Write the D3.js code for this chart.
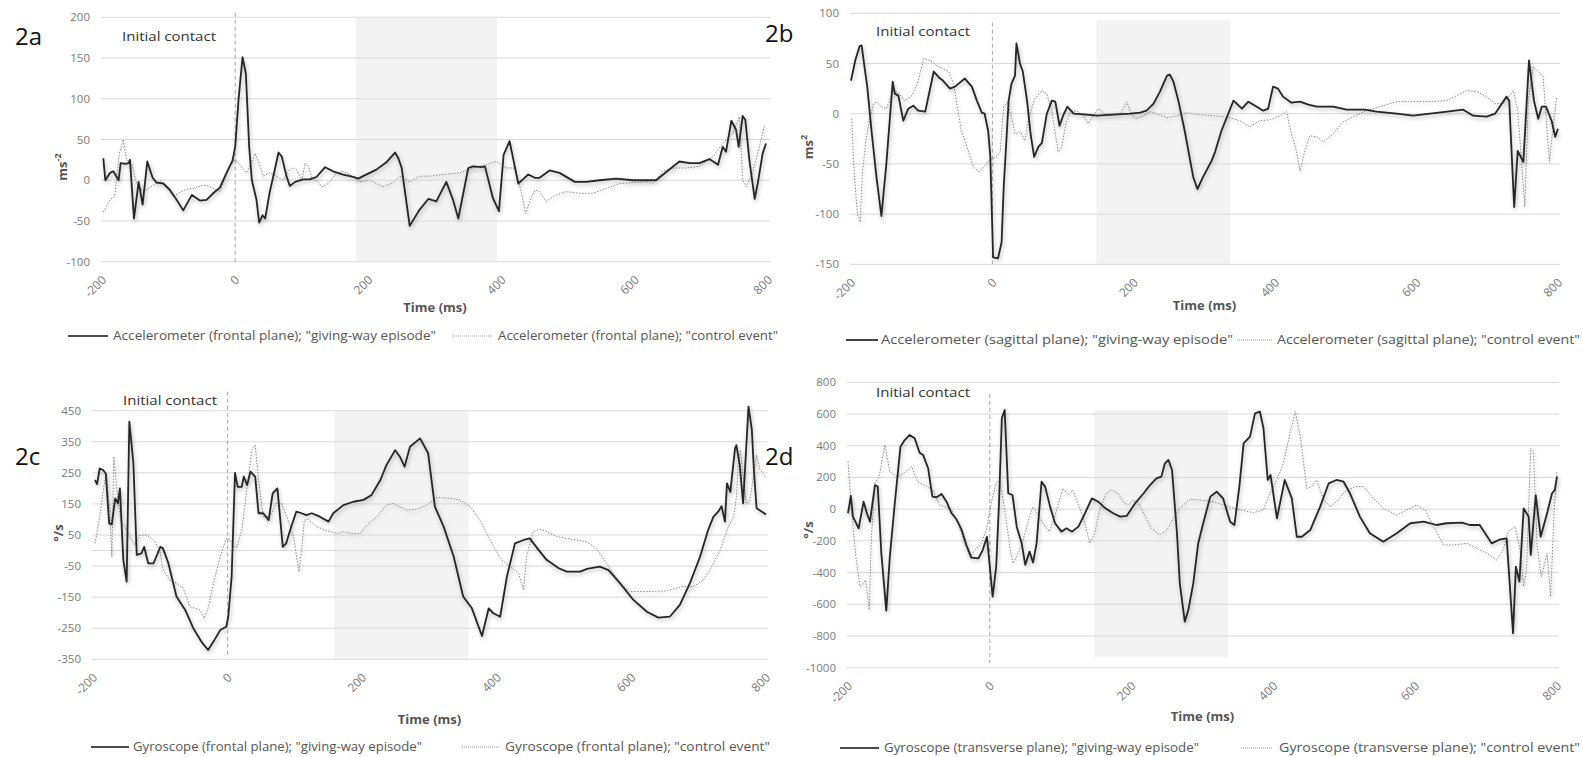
<!DOCTYPE html>
<html>
<head>
<meta charset="utf-8">
<script src="https://cdn.jsdelivr.net/npm/d3@7"></script>
<style>
  body { margin: 0; background: #fff; }
  svg text { font-family: "Open Sans", "DejaVu Sans", sans-serif; }
</style>
</head>
<body>
<svg id="fig" width="1582" height="757"></svg>
<script>
// ---- values: [time ms, value] ----
const xTicks = [-200, 0, 200, 400, 600, 800];
const yTicksA = [200, 150, 100, 50, 0, -50, -100];
const yTicksB = [100, 50, 0, -50, -100, -150];
const yTicksC = [450, 350, 250, 150, 50, -50, -150, -250, -350];
const yTicksD = [800, 600, 400, 200, 0, -200, -400, -600, -800, -1000];

// shaded window: [t start, t end, value bottom, value top]
const shadeA = [181, 393, -100, 199];
const shadeB = [147, 336, -150, 93];
const shadeC = [158, 358, -350, 450];
const shadeD = [147, 336, -935, 625];

const legendA = ['Accelerometer (frontal plane); "giving-way episode"', 'Accelerometer (frontal plane); "control event"'];
const legendB = ['Accelerometer (sagittal plane); "giving-way episode"', 'Accelerometer (sagittal plane); "control event"'];
const legendC = ['Gyroscope (frontal plane); "giving-way episode"', 'Gyroscope (frontal plane); "control event"'];
const legendD = ['Gyroscope (transverse plane); "giving-way episode"', 'Gyroscope (transverse plane); "control event"'];

const accFrontalGiving = [[-198,27],[-195,0],[-188,9],[-183,11],[-175,0],[-172,21],[-165,20],[-160,21],[-158,25],[-152,-47],[-145,-2],[-139,-30],[-132,23],[-124,3],[-118,-3],[-108,-4],[-98,-12],[-88,-24],[-78,-37],[-65,-18],[-53,-25],[-43,-24],[-33,-16],[-23,-9],[-13,9],[-4,24],[0,41],[5,99],[11,151],[16,131],[21,41],[25,0],[32,-24],[36,-52],[41,-43],[45,-47],[52,-14],[60,15],[65,34],[70,29],[77,5],[82,-7],[90,-2],[102,1],[112,1],[122,4],[135,16],[147,11],[162,7],[177,4],[185,2],[192,5],[212,13],[227,22],[240,34],[245,27],[250,15],[262,-56],[277,-36],[290,-23],[302,-26],[317,-2],[327,-24],[335,-47],[350,15],[357,17],[370,16],[375,17],[387,-22],[396,-38],[403,31],[412,48],[425,-4],[432,1],[440,7],[450,3],[457,3],[472,12],[487,9],[510,-2],[527,-2],[547,0],[572,2],[597,0],[632,0],[650,12],[667,23],[682,21],[697,21],[712,26],[725,19],[732,41],[737,35],[745,73],[752,62],[756,41],[762,79],[766,74],[772,25],[780,-23],[785,-2],[792,33],[797,45]];
const accFrontalControl = [[-198,-39],[-188,-24],[-181,-20],[-174,33],[-168,50],[-163,25],[-156,21],[-148,-4],[-138,-14],[-126,-8],[-113,0],[-103,-8],[-93,-20],[-83,-15],[-73,-11],[-61,-10],[-48,-6],[-41,-7],[-33,-10],[-23,-14],[-8,17],[0,26],[7,19],[17,9],[25,23],[30,33],[35,23],[42,5],[52,9],[62,5],[72,0],[80,12],[87,15],[92,13],[100,0],[105,21],[110,17],[115,3],[125,-2],[130,-8],[140,-4],[152,9],[162,11],[172,7],[187,-2],[202,0],[222,-8],[237,-3],[247,5],[262,-2],[277,5],[292,5],[312,7],[337,9],[357,15],[377,19],[392,23],[397,21],[407,15],[420,15],[430,-16],[436,-41],[445,-20],[451,-12],[457,-14],[467,-26],[482,-18],[497,-14],[517,-16],[537,-16],[557,-10],[577,-4],[597,-3],[620,-2],[627,-4],[642,11],[657,15],[677,15],[697,17],[717,29],[732,45],[747,58],[757,78],[762,0],[767,-8],[777,9],[787,41],[795,68]];

const accSagittalGiving = [[-200,33],[-194,53],[-188,67],[-185,68],[-179,37],[-177,27],[-171,-17],[-164,-63],[-157,-102],[-150,-50],[-141,32],[-138,20],[-133,18],[-126,-7],[-119,5],[-112,8],[-105,3],[-95,2],[-83,42],[-74,35],[-70,33],[-60,25],[-53,27],[-39,35],[-29,27],[-22,13],[-15,1],[-11,0],[-6,-17],[-3,-42],[1,-143],[8,-144],[13,-128],[16,-73],[23,13],[27,30],[32,38],[34,70],[39,50],[43,42],[49,13],[54,-20],[59,-43],[65,-33],[70,-29],[77,0],[84,13],[89,12],[95,-12],[100,-2],[106,7],[115,0],[133,-1],[148,-2],[171,-1],[195,0],[209,1],[218,3],[228,10],[237,22],[247,38],[251,39],[256,32],[263,13],[272,-17],[284,-63],[290,-75],[298,-63],[310,-47],[315,-38],[324,-17],[341,13],[353,5],[362,12],[374,7],[383,3],[390,5],[397,27],[404,25],[411,17],[423,11],[435,12],[447,9],[459,7],[482,7],[501,4],[527,4],[543,2],[572,0],[595,-2],[619,0],[643,2],[666,4],[680,-2],[699,-3],[711,0],[727,17],[731,13],[738,-93],[743,-37],[751,-48],[759,53],[766,13],[772,-5],[777,7],[783,7],[791,-7],[796,-23],[800,-15]];
const accSagittalControl = [[-199,-5],[-196,-53],[-191,-100],[-187,-108],[-184,-60],[-179,-27],[-174,-7],[-168,10],[-164,12],[-157,7],[-150,5],[-140,23],[-133,21],[-124,13],[-114,18],[-106,30],[-97,55],[-88,53],[-79,48],[-70,45],[-62,42],[-55,30],[-44,-17],[-36,-33],[-27,-53],[-19,-58],[-11,-52],[-4,-46],[6,-43],[11,-38],[16,7],[21,12],[27,-3],[32,-20],[40,-18],[46,-27],[51,-5],[60,15],[70,23],[77,20],[84,3],[89,-20],[93,-38],[98,-33],[104,-10],[111,2],[119,3],[129,-2],[136,-10],[142,-2],[150,5],[159,0],[171,0],[181,0],[190,12],[195,2],[202,-5],[214,-2],[223,2],[232,0],[247,-4],[261,-2],[275,1],[293,-1],[312,-2],[331,-3],[350,-7],[364,-13],[378,-7],[393,-6],[407,-2],[416,2],[423,-20],[430,-37],[435,-57],[442,-37],[449,-22],[459,-23],[468,-28],[482,-20],[496,-8],[511,-3],[529,3],[548,7],[572,12],[595,12],[619,12],[642,13],[657,18],[671,23],[685,22],[699,17],[711,10],[723,10],[737,23],[743,3],[749,-53],[753,-93],[758,13],[765,47],[779,37],[784,-13],[788,-47],[792,-20],[798,17]];

const gyroFrontalGiving = [[-197,227],[-194,214],[-190,264],[-185,259],[-181,248],[-176,87],[-172,85],[-167,168],[-163,152],[-160,200],[-155,-30],[-150,-100],[-146,415],[-140,281],[-135,-14],[-128,-9],[-124,12],[-118,-41],[-110,-41],[-100,12],[-96,7],[-88,-41],[-76,-148],[-63,-191],[-51,-250],[-39,-293],[-29,-320],[-21,-293],[-11,-256],[-2,-245],[1,-213],[6,-84],[11,250],[15,205],[21,205],[24,238],[29,211],[34,254],[41,238],[46,120],[53,120],[61,98],[67,184],[74,200],[82,12],[87,23],[93,66],[102,125],[110,120],[117,114],[125,120],[137,109],[150,93],[157,120],[172,146],[187,157],[202,163],[214,179],[227,227],[236,275],[249,323],[256,302],[263,270],[271,334],[286,361],[298,313],[308,141],[321,77],[336,-20],[350,-148],[363,-186],[378,-275],[388,-186],[395,-202],[405,-213],[415,-84],[427,23],[440,34],[449,39],[462,2],[474,-30],[492,-57],[504,-68],[524,-68],[534,-59],[553,-52],[566,-63],[583,-105],[603,-159],[623,-197],[640,-216],[657,-213],[672,-175],[687,-105],[702,-20],[714,66],[722,109],[729,125],[734,143],[739,93],[742,216],[747,189],[754,329],[756,339],[761,275],[766,152],[774,463],[779,388],[782,259],[786,136],[794,125],[800,116]];
const gyroFrontalControl = [[-197,23],[-190,109],[-184,205],[-180,248],[-175,130],[-172,-20],[-169,302],[-165,205],[-159,98],[-153,77],[-145,45],[-138,18],[-130,50],[-120,50],[-110,34],[-101,2],[-96,-63],[-86,-95],[-76,-105],[-66,-121],[-56,-181],[-48,-186],[-41,-191],[-35,-218],[-29,-186],[-21,-105],[-11,-20],[-2,39],[4,34],[9,12],[14,12],[21,66],[28,184],[36,323],[41,339],[46,227],[53,109],[63,109],[72,152],[80,152],[88,109],[98,45],[106,-68],[110,2],[114,98],[120,100],[132,77],[145,66],[152,61],[162,55],[172,61],[184,55],[197,55],[207,82],[222,109],[236,146],[246,152],[256,141],[266,130],[281,133],[296,146],[311,171],[331,168],[345,163],[360,141],[375,98],[390,34],[405,-25],[420,-52],[432,-73],[440,-127],[444,-20],[454,61],[464,68],[474,61],[489,45],[504,39],[519,34],[534,28],[548,7],[563,-41],[583,-105],[598,-132],[623,-132],[652,-130],[675,-116],[692,-116],[707,-95],[717,-62],[732,2],[744,77],[752,109],[756,173],[759,280],[762,323],[766,238],[771,152],[776,157],[779,205],[786,307],[791,259],[796,248],[800,232]];

const gyroTransGiving = [[-200,-26],[-196,83],[-193,-47],[-185,-121],[-178,47],[-173,-31],[-169,-79],[-162,152],[-158,142],[-153,-279],[-146,-640],[-141,-299],[-134,37],[-126,394],[-120,436],[-113,468],[-106,447],[-99,356],[-94,342],[-87,258],[-81,79],[-75,75],[-68,96],[-61,47],[-54,-26],[-47,-64],[-40,-127],[-33,-226],[-26,-306],[-16,-310],[-10,-258],[-4,-174],[0,-363],[4,-552],[9,-363],[13,37],[17,573],[21,625],[26,100],[32,89],[38,-111],[45,-216],[50,-352],[56,-268],[61,-337],[66,-216],[73,173],[78,142],[85,16],[92,-89],[101,-142],[108,-121],[116,-142],[125,-110],[132,-47],[144,68],[153,47],[163,5],[174,-26],[184,-47],[193,-43],[205,37],[217,100],[226,152],[235,194],[242,205],[247,289],[252,310],[257,247],[264,-152],[268,-468],[275,-710],[280,-636],[287,-468],[294,-215],[301,-89],[311,79],[320,110],[329,68],[339,-79],[345,-100],[352,142],[358,415],[367,457],[374,604],[381,615],[386,510],[392,184],[396,215],[405,-58],[416,184],[426,68],[433,-174],[440,-174],[452,-132],[466,16],[478,163],[489,184],[499,173],[508,100],[522,-47],[536,-152],[555,-205],[574,-152],[593,-89],[612,-79],[630,-100],[644,-89],[666,-85],[677,-100],[691,-100],[708,-216],[720,-190],[729,-184],[738,-783],[742,-363],[747,-457],[753,5],[760,-47],[763,-289],[770,89],[777,-174],[786,-26],[793,100],[797,121],[800,205]];
const gyroTransControl = [[-200,300],[-195,-5],[-189,-300],[-183,-489],[-178,-468],[-175,-447],[-170,-636],[-167,-173],[-162,163],[-156,205],[-148,405],[-141,237],[-131,205],[-122,226],[-110,268],[-102,173],[-89,142],[-80,121],[-71,26],[-63,16],[-54,-5],[-44,-89],[-36,-216],[-28,-300],[-21,-258],[-12,-216],[-5,-132],[3,58],[9,163],[14,184],[21,-5],[29,-258],[33,-342],[40,-279],[47,-195],[56,-47],[61,16],[69,-47],[78,-110],[84,-142],[90,-68],[97,37],[103,131],[111,89],[117,121],[125,26],[133,-68],[141,-216],[148,-152],[155,-5],[164,100],[172,121],[181,100],[188,47],[195,26],[202,58],[210,37],[217,-26],[228,-121],[240,-163],[250,-131],[259,-58],[268,5],[278,47],[282,62],[297,58],[315,47],[334,20],[353,-5],[372,-22],[386,-5],[395,100],[405,184],[414,289],[424,489],[431,615],[438,457],[447,131],[454,142],[461,184],[471,58],[480,16],[489,47],[501,110],[515,142],[527,142],[541,68],[555,5],[574,-37],[588,-5],[602,26],[614,-5],[626,-110],[640,-226],[654,-226],[673,-216],[687,-247],[701,-279],[715,-321],[724,-258],[731,-142],[741,-110],[748,-258],[753,-489],[757,-384],[763,384],[767,363],[772,-237],[778,-426],[786,-279],[791,-552],[796,-5],[800,237]];

// ---- layout ----
const panels = [
  { tag: "2a", series: [accFrontalGiving, accFrontalControl], yTicks: yTicksA, shade: shadeA, legend: legendA,
    xr: [102, 768], yr: [261.7, 17.3], tagPos: [15, 45], icPos: [122, 41], icLine: [12.7, 263],
    unit: ["ms", "-2"], unitPos: [67, 167], timeY: 312, legY: 336,
    leg: [68, 108, 113, 323, 452, 492, 498, 280] },
  { tag: "2b", series: [accSagittalGiving, accSagittalControl], yTicks: yTicksB, shade: shadeB, legend: legendB,
    xr: [851, 1558], yr: [264.3, 13.3], tagPos: [765, 42], icPos: [876, 36], icLine: [22.7, 264],
    unit: ["ms", "2"], unitPos: [813, 147], timeY: 310, legY: 340,
    leg: [846, 878, 881, 352, 1237, 1273, 1277, 303] },
  { tag: "2c", series: [gyroFrontalGiving, gyroFrontalControl], yTicks: yTicksC, shade: shadeC, legend: legendC,
    xr: [93, 766], yr: [659.3, 410.7], tagPos: [15, 465], icPos: [123, 405], icLine: [391.7, 658],
    unit: ["°/s", null], unitPos: [63, 533], timeY: 724, legY: 747,
    leg: [91, 129, 133, 289, 462, 500, 505, 265] },
  { tag: "2d", series: [gyroTransGiving, gyroTransControl], yTicks: yTicksD, shade: shadeD, legend: legendD,
    xr: [848, 1557], yr: [667.7, 382.3], tagPos: [765, 465], icPos: [876, 397], icLine: [394, 663],
    unit: ["°/s", null], unitPos: [813, 530], timeY: 721, legY: 748,
    leg: [840, 879, 884, 315, 1241, 1273, 1279, 301] }
];

const svg = d3.select("#fig");
const defs = svg.append("defs");
const f = defs.append("filter").attr("id", "glow")
  .attr("filterUnits", "userSpaceOnUse").attr("x", 0).attr("y", 0).attr("width", 1582).attr("height", 757);
f.append("feGaussianBlur").attr("in", "SourceAlpha").attr("stdDeviation", 2.2).attr("result", "b");
f.append("feOffset").attr("in", "b").attr("dx", 1).attr("dy", 1.5).attr("result", "o");
f.append("feComponentTransfer").attr("in", "o").attr("result", "s")
  .append("feFuncA").attr("type", "linear").attr("slope", 0.3);
const m = f.append("feMerge");
m.append("feMergeNode").attr("in", "s");
m.append("feMergeNode").attr("in", "SourceGraphic");

panels.forEach(p => {
  const yd = d3.extent(p.yTicks);
  const x = d3.scaleLinear().domain([-200, 800]).range(p.xr);
  const y = d3.scaleLinear().domain(yd).range(p.yr);
  const g = svg.append("g").attr("class", "panel");

  // shaded window
  g.append("rect")
    .attr("x", x(p.shade[0])).attr("width", x(p.shade[1]) - x(p.shade[0]))
    .attr("y", y(p.shade[3])).attr("height", y(p.shade[2]) - y(p.shade[3]))
    .attr("fill", "#f3f3f3");

  // gridlines (plus zero line)
  const gl = p.yTicks.includes(0) ? p.yTicks : p.yTicks.concat([0]);
  g.selectAll(".grid").data(gl).enter().append("line")
    .attr("x1", p.xr[0] - 1).attr("x2", p.xr[1] + 2)
    .attr("y1", d => y(d)).attr("y2", d => y(d))
    .attr("stroke", "#d9d9d9").attr("stroke-width", 1);

  // y tick labels
  g.selectAll(".ytl").data(p.yTicks).enter().append("text")
    .attr("x", p.xr[0] - 12).attr("y", d => y(d) + 4)
    .attr("text-anchor", "end").attr("font-size", 11.5).attr("fill", "#7a7a7a")
    .text(d => d);

  // x tick labels, rotated
  g.selectAll(".xtl").data(xTicks).enter().append("text")
    .attr("transform", d => "translate(" + (x(d) + 5) + "," + (p.yr[0] + 19) + ") rotate(-45)")
    .attr("text-anchor", "end").attr("font-size", 12).attr("fill", "#7a7a7a")
    .text(d => d);

  // initial contact marker
  g.append("line")
    .attr("x1", x(0)).attr("x2", x(0)).attr("y1", p.icLine[0]).attr("y2", p.icLine[1])
    .attr("stroke", "#a6a6a6").attr("stroke-width", 1).attr("stroke-dasharray", "4,3");
  g.append("text").attr("x", p.icPos[0]).attr("y", p.icPos[1])
    .attr("font-size", 12.5).attr("fill", "#333").attr("textLength", 94).attr("lengthAdjust", "spacingAndGlyphs")
    .text("Initial contact");

  // series
  const line = d3.line().x(d => x(d[0])).y(d => y(d[1]));
  g.append("path").datum(p.series[1]).attr("d", line)
    .attr("fill", "none").attr("stroke", "#8a8a8a").attr("stroke-width", 1)
    .attr("stroke-dasharray", "1.5,1.5").attr("filter", "url(#glow)");
  g.append("path").datum(p.series[0]).attr("d", line)
    .attr("fill", "none").attr("stroke", "#262626").attr("stroke-width", 1.8)
    .attr("stroke-linejoin", "round").attr("filter", "url(#glow)");

  // panel tag
  g.append("text").attr("x", p.tagPos[0]).attr("y", p.tagPos[1])
    .attr("font-size", 24).attr("fill", "#111").text(p.tag);

  // axis titles
  g.append("text").attr("x", (p.xr[0] + p.xr[1]) / 2).attr("y", p.timeY)
    .attr("text-anchor", "middle").attr("font-size", 13).attr("font-weight", "bold").attr("fill", "#555")
    .text("Time (ms)");
  const ut = g.append("text")
    .attr("transform", "translate(" + p.unitPos[0] + "," + p.unitPos[1] + ") rotate(-90)")
    .attr("text-anchor", "middle").attr("font-size", 13).attr("font-weight", "bold").attr("fill", "#555");
  ut.append("tspan").text(p.unit[0]);
  if (p.unit[1]) ut.append("tspan").attr("dy", -6).attr("font-size", 9).text(p.unit[1]);

  // legend
  const L = p.leg;
  g.append("line").attr("x1", L[0]).attr("x2", L[1]).attr("y1", p.legY).attr("y2", p.legY)
    .attr("stroke", "#111").attr("stroke-width", 1.6);
  g.append("text").attr("x", L[2]).attr("y", p.legY + 4)
    .attr("font-size", 12).attr("fill", "#555").attr("textLength", L[3]).attr("lengthAdjust", "spacingAndGlyphs")
    .text(p.legend[0]);
  g.append("line").attr("x1", L[4]).attr("x2", L[5]).attr("y1", p.legY).attr("y2", p.legY)
    .attr("stroke", "#999").attr("stroke-width", 1).attr("stroke-dasharray", "1,1");
  g.append("text").attr("x", L[6]).attr("y", p.legY + 4)
    .attr("font-size", 12).attr("fill", "#555").attr("textLength", L[7]).attr("lengthAdjust", "spacingAndGlyphs")
    .text(p.legend[1]);
});
</script>
</body>
</html>
